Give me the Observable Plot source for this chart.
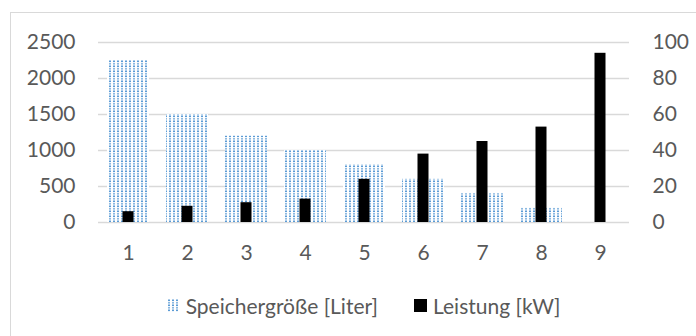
<!DOCTYPE html>
<html>
<head>
<meta charset="utf-8">
<script src="https://cdn.jsdelivr.net/npm/d3@7"></script>
<script src="https://cdn.jsdelivr.net/npm/@observablehq/plot@0.6"></script>
<style>
  body { margin: 0; background: #fff; width: 696px; height: 336px; overflow: hidden; position: relative; }
  #frame { position: absolute; left: 10px; top: 12px; right: -4px; bottom: -4px; border: 1px solid #d9d9d9; }
  #chart { position: absolute; left: 0; top: 0; }
  #legend { position: absolute; left: 98px; width: 531px; top: 293px; display: flex; justify-content: center; align-items: center;
            font-family: Lato, sans-serif; font-size: 21px; color: #595959; }
  .item { display: flex; align-items: center; }
  .sw { width: 13px; height: 13px; margin-right: 6px; }
</style>
</head>
<body>
<div id="frame"></div>
<div id="chart"></div>
<div id="legend"></div>
<script>
// Kategorien 1–9
const categories = [1, 2, 3, 4, 5, 6, 7, 8, 9];
// Speichergröße [Liter] (linke Achse)
const speicher = [2250, 1500, 1200, 1000, 800, 600, 400, 200, 0];
// Leistung [kW] (rechte Achse)
const leistung = [6, 9, 11, 13, 24, 38, 45, 53, 94];
// Achsenbeschriftungen
const leftTicks = [0, 500, 1000, 1500, 2000, 2500];
const rightTicks = [0, 20, 40, 60, 80, 100];
const seriesNames = ["Speichergröße [Liter]", "Leistung [kW]"];

// rechte Achse (0–100) auf die linke (0–2500) abbilden
const k = 2500 / 100;

const rows = categories.map((c, i) => ({ cat: c, speicher: speicher[i], leistung: leistung[i] * k }));

const grey = "#595959";

const chart = Plot.plot({
  width: 696,
  height: 280,
  marginLeft: 98,
  marginRight: 67,
  marginTop: 42,
  marginBottom: 58,
  style: { fontFamily: "Lato, sans-serif", fontSize: "21px", color: grey, background: "transparent" },
  x: { type: "band", domain: categories, paddingInner: 0.29, paddingOuter: 0.145, label: null },
  y: { domain: [0, 2500], label: null },
  marks: [
    Plot.gridY(leftTicks, { stroke: "#d9d9d9", strokeOpacity: 1, strokeWidth: 1.5 }),
    Plot.barY(rows, { x: "cat", y: "speicher", fill: "url(#dots)" }),
    Plot.barY(rows, { x: "cat", y: "leistung", fill: "#000", insetLeft: 15.5, insetRight: 15.5 }),
    Plot.axisY(leftTicks, { anchor: "left", tickSize: 0, tickPadding: 23, label: null, fill: grey, tickFormat: d => String(d) }),
    Plot.axisY(rightTicks.map(v => v * k), { anchor: "right", tickSize: 0, tickPadding: 23, label: null, fill: grey, tickFormat: d => String(d / k) }),
    Plot.axisX({ tickSize: 0, tickPadding: 23, label: null, fill: grey })
  ]
});

// gepunktetes Füllmuster der Speicherbalken
function addPattern(svg, id) {
  const defs = d3.select(svg).insert("defs", ":first-child");
  const p = defs.append("pattern").attr("id", id).attr("patternUnits", "userSpaceOnUse")
    .attr("width", 4).attr("height", 5);
  p.append("rect").attr("width", 4).attr("height", 5).attr("fill", "#fff");
  p.append("rect").attr("x", 1).attr("y", 0.5).attr("width", 2).attr("height", 1.6).attr("fill", "#5b9bd5");
  p.append("rect").attr("x", 1).attr("y", 3).attr("width", 2).attr("height", 1.6).attr("fill", "#5b9bd5").attr("opacity", 0.7);
}
addPattern(chart, "dots");
document.getElementById("chart").append(chart);

// Legende
const legend = document.getElementById("legend");
seriesNames.forEach((name, i) => {
  const item = document.createElement("div");
  item.className = "item";
  if (i > 0) item.style.marginLeft = "36px";
  const sw = document.createElementNS("http://www.w3.org/2000/svg", "svg");
  sw.setAttribute("class", "sw");
  sw.setAttribute("width", 13);
  sw.setAttribute("height", 13);
  if (i === 0) addPattern(sw, "dotsLegend");
  const r = document.createElementNS("http://www.w3.org/2000/svg", "rect");
  r.setAttribute("width", 13);
  r.setAttribute("height", 13);
  r.setAttribute("fill", i === 0 ? "url(#dotsLegend)" : "#000");
  sw.append(r);
  const t = document.createElement("span");
  t.textContent = name;
  item.append(sw, t);
  legend.append(item);
});
</script>
</body>
</html>
